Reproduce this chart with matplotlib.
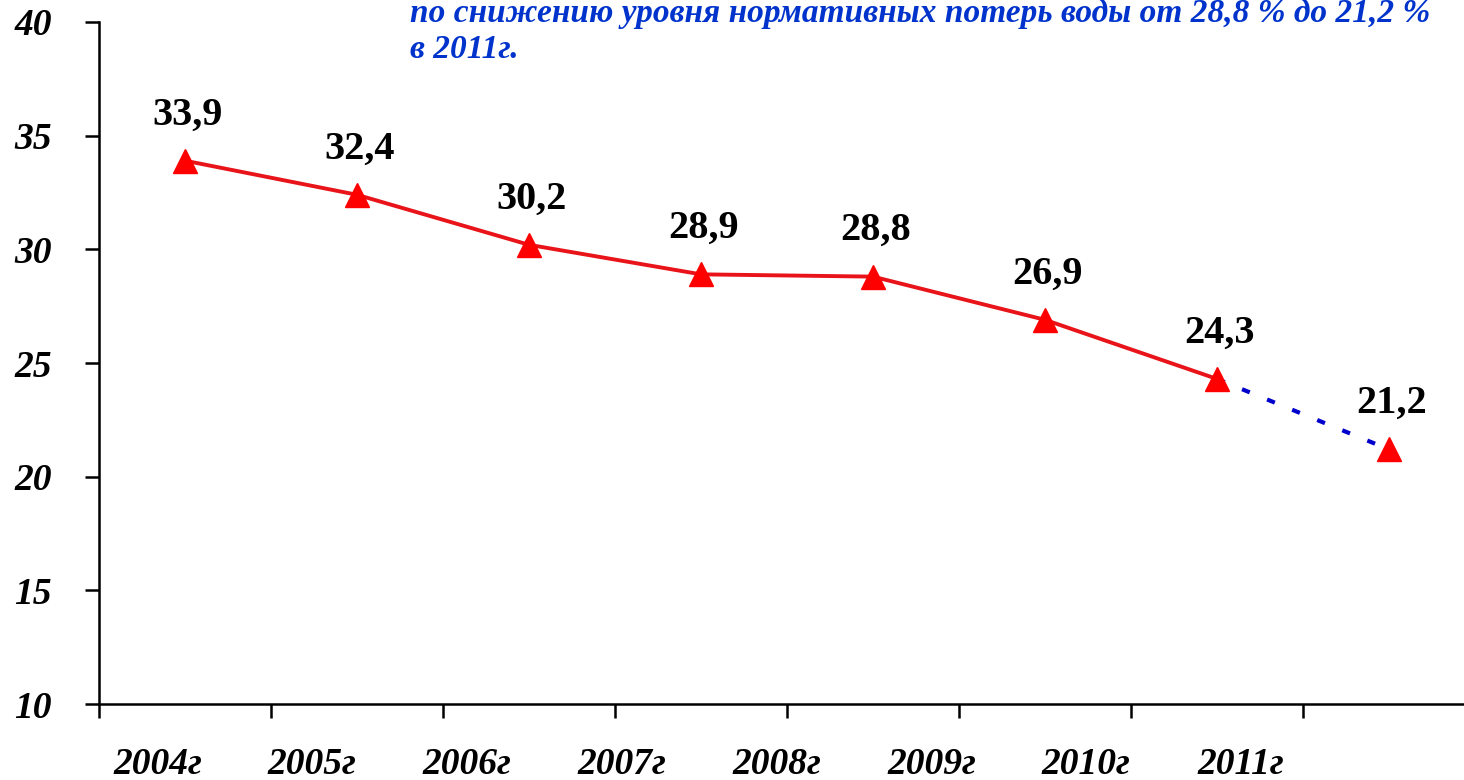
import matplotlib
matplotlib.use("Agg")
import matplotlib.pyplot as plt
import matplotlib.transforms as mtransforms
import numpy as np

# data
years = ["2004г", "2005г", "2006г", "2007г", "2008г", "2009г", "2010г", "2011г"]
losses = [33.9, 32.4, 30.2, 28.9, 28.8, 26.9, 24.3, 21.2]
value_labels = ["33,9", "32,4", "30,2", "28,9", "28,8", "26,9", "24,3", "21,2"]
y_ticks = [10, 15, 20, 25, 30, 35, 40]
title_lines = ["по снижению уровня нормативных потерь воды от 28,8 % до 21,2 %",
               "в 2011г."]

serif = ["Liberation Serif", "DejaVu Serif"]
red_line = "#E8141A"
red_marker = "#FF0000"
blue = "#0033CC"


def main():
    fig = plt.figure(figsize=(14.64, 7.8), dpi=100)
    ax = fig.add_axes([0.0676, 0.0974, 0.9399, 0.8744])

    x = np.arange(len(years))
    n_fact = len(years) - 1  # last year is the plan value

    ax.plot(x[:n_fact], losses[:n_fact], color=red_line, lw=2.8, zorder=3)
    ax.plot(x[n_fact - 1:], losses[n_fact - 1:], color="#0000CC", lw=3,
            linestyle=(0, (2.0, 4.5)), zorder=2)
    ax.plot(x, losses, linestyle="none", marker="^", ms=17,
            color=red_marker, zorder=4)

    for xi, yi, lab in zip(x, losses, value_labels):
        ax.annotate(lab, (xi, yi), xytext=(2, 33), textcoords="offset points",
                    ha="center", va="center", fontsize=29, fontweight="bold",
                    family=serif, color="black")

    ax.set_xlim(-0.5, len(years) - 0.5)
    ax.set_ylim(10, 40)

    # axes: boundary ticks on x, labels placed as separate texts like on the slide
    ax.set_xticks(np.arange(len(years) + 1) - 0.5)
    ax.set_xticklabels([])
    trans = mtransforms.blended_transform_factory(ax.transData, ax.transAxes)
    label_pos = x * 0.9 - 0.16
    for xp, lab in zip(label_pos, years):
        ax.text(xp, -0.088, lab, transform=trans, ha="center", va="center",
                fontsize=27, fontweight="bold", fontstyle="italic",
                family=serif, clip_on=False)

    ax.set_yticks(y_ticks)
    ax.set_yticklabels([str(v) for v in y_ticks], fontsize=27,
                       fontweight="bold", fontstyle="italic", family=serif)
    ax.tick_params(axis="both", direction="out", length=10, width=1.8,
                   color="black")
    ax.tick_params(axis="y", pad=24)

    for side in ["top", "right"]:
        ax.spines[side].set_visible(False)
    for side in ["left", "bottom"]:
        ax.spines[side].set_linewidth(1.8)

    fig.text(0.28, 0.972, title_lines[0], ha="left", va="baseline",
             fontsize=24, fontweight="bold", fontstyle="italic",
             family=serif, color=blue)
    fig.text(0.28, 0.926, title_lines[1], ha="left", va="baseline",
             fontsize=24, fontweight="bold", fontstyle="italic",
             family=serif, color=blue)

    fig.savefig("out.png", dpi=100)


main()
